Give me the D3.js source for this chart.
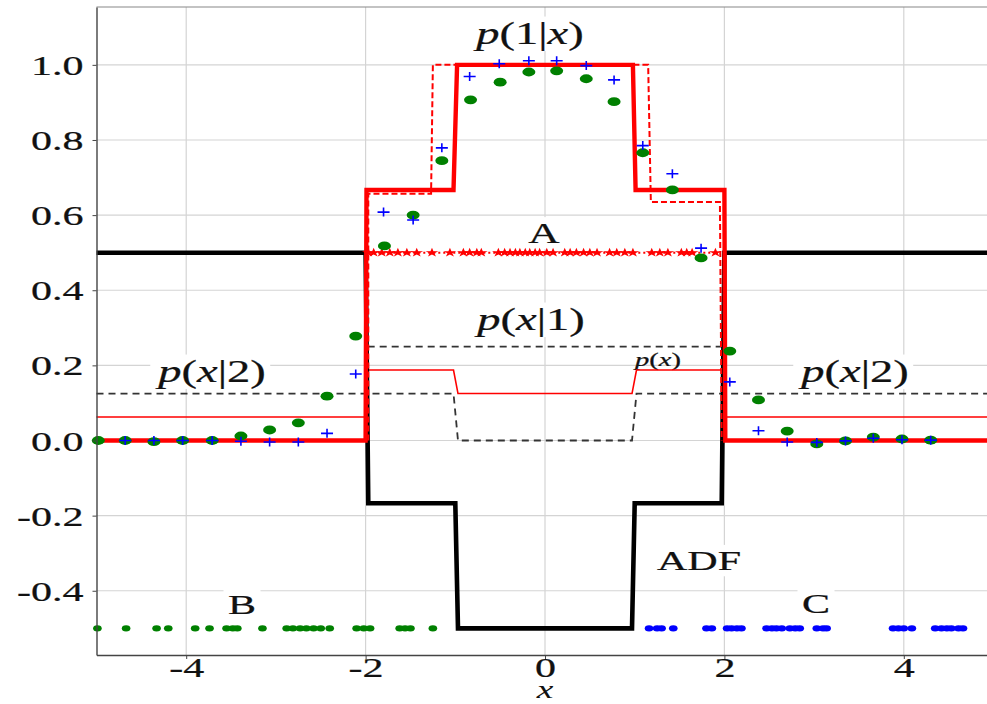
<!DOCTYPE html>
<html>
<head>
<meta charset="utf-8">
<script src="https://cdn.jsdelivr.net/npm/d3@7"></script>
<style>
  body { margin: 0; background: #fff; }
  svg { display: block; }
</style>
</head>
<body>
<script>
const width = 987, height = 704;
const SX = 1.5; // figure is stretched horizontally

// ticks
const xTicks = [-4, -2, 0, 2, 4];
const xTickLabels = ["-4", "-2", "0", "2", "4"];
const yTicks = [-0.4, -0.2, 0, 0.2, 0.4, 0.6, 0.8, 1.0];
const yTickLabels = ["-0.4", "-0.2", "0.0", "0.2", "0.4", "0.6", "0.8", "1.0"];

// ADF (thick black)
const adfX = [-5, -2.0, -1.97, -1.0, -0.97, 0.97, 1.0, 1.97, 2.0, 5.1];
const adfY = [0.5, 0.5, -0.167, -0.167, -0.5, -0.5, -0.167, -0.167, 0.5, 0.5];

// p(1|x) exact (thick red)
const post1X = [-5, -2.0, -1.99, -1.02, -0.98, 0.98, 1.01, 2.0, 2.01, 5.1];
const post1Y = [0, 0, 0.667, 0.667, 1.0, 1.0, 0.667, 0.667, 0, 0];

// p(1|x) estimate (red dashed)
const estX = [-1.97, -1.97, -1.27, -1.25, 1.15, 1.18, 1.95, 1.97];
const estY = [0, 0.657, 0.657, 1.0, 1.0, 0.635, 0.635, 0];

// p(x) (thin red)
const pxX = [-5, -2.0, -2.0, -1.02, -0.97, 0.97, 1.02, 2.0, 2.0, 5.1];
const pxY = [0.0625, 0.0625, 0.1875, 0.1875, 0.125, 0.125, 0.1875, 0.1875, 0.0625, 0.0625];

// p(x|2) and p(x|1) (black dashed)
const px2X = [-5, -1.02, -0.97, 0.97, 1.02, 5.1];
const px2Y = [0.125, 0.125, 0, 0, 0.125, 0.125];
const px1X = [-2, -2, 2, 2];
const px1Y = [0, 0.25, 0.25, 0];

// network outputs: green dots and blue pluses
const greenX = [-4.98, -4.68, -4.36, -4.04, -3.71, -3.39, -3.07, -2.75, -2.43, -2.11, -1.79, -1.47, -1.15, -0.83, -0.50, -0.18,
                0.13, 0.46, 0.77, 1.09, 1.42, 1.74, 2.06, 2.38, 2.70, 3.03, 3.35, 3.66, 3.98, 4.30];
const greenY = [0.0, 0.0, -0.003, 0.0, 0.0, 0.012, 0.028, 0.047, 0.118, 0.278, 0.518, 0.600, 0.745, 0.907, 0.954, 0.981,
                0.984, 0.963, 0.902, 0.766, 0.667, 0.486, 0.238, 0.108, 0.025, -0.009, -0.001, 0.009, 0.004, 0.001];
const blueX = [-4.68, -4.36, -4.04, -3.71, -3.39, -3.07, -2.75, -2.43, -2.11, -1.80, -1.47, -1.15, -0.84, -0.51, -0.18,
               0.13, 0.46, 0.77, 1.09, 1.42, 1.74, 2.06, 2.38, 2.70, 3.03, 3.35, 3.66, 3.98, 4.30];
const blueY = [0.0, 0.0, 0.0, 0.0, -0.002, -0.004, -0.004, 0.019, 0.177, 0.608, 0.587, 0.779, 0.969, 1.003, 1.011,
               1.011, 0.998, 0.960, 0.785, 0.710, 0.512, 0.156, 0.026, -0.004, -0.005, -0.001, 0.006, 0.002, 0.001];

// samples
const sampleA = [-1.97, -1.91, -1.82, -1.73, -1.64, -1.54, -1.43, -1.26, -1.06, -0.91, -0.84, -0.76, -0.71, -0.52, -0.45,
                 -0.39, -0.33, -0.28, -0.22, -0.17, -0.11, -0.06, 0.02, 0.09, 0.22, 0.28, 0.35, 0.43, 0.50, 0.58, 0.72,
                 0.80, 0.89, 0.98, 1.19, 1.28, 1.37, 1.52, 1.58, 1.64, 1.90];
const sampleB = [-4.99, -4.67, -4.33, -4.20, -3.90, -3.74, -3.55, -3.48, -3.43, -3.15, -2.88, -2.81, -2.73, -2.66, -2.58,
                 -2.50, -2.40, -2.10, -2.02, -1.95, -1.62, -1.56, -1.50, -1.25];
const sampleC = [1.16, 1.25, 1.30, 1.43, 1.80, 1.86, 2.03, 2.08, 2.14, 2.19, 2.47, 2.53, 2.58, 2.64, 2.73, 2.79, 2.84,
                 3.03, 3.10, 3.14, 3.88, 3.94, 4.00, 4.09, 4.35, 4.42, 4.48, 4.53, 4.61, 4.66];

const x = d3.scaleLinear().domain([-5, 5]).range([96.5, 993.5]);
const y = d3.scaleLinear().domain([-0.571, 1.154]).range([655, 7]);

const svg = d3.select("body").append("svg")
    .attr("width", width)
    .attr("height", height)
    .style("font-family", "'Liberation Serif', 'DejaVu Serif', serif");

// grid
svg.append("g").selectAll("line")
    .data(xTicks)
    .join("line")
    .attr("x1", d => x(d)).attr("x2", d => x(d))
    .attr("y1", y.range()[1]).attr("y2", y.range()[0])
    .attr("stroke", "#d4d4d4").attr("stroke-width", 1.2);
svg.append("g").selectAll("line")
    .data(yTicks)
    .join("line")
    .attr("x1", x.range()[0]).attr("x2", width)
    .attr("y1", d => y(d)).attr("y2", d => y(d))
    .attr("stroke", "#d4d4d4").attr("stroke-width", 1.2);

// top frame
svg.append("line")
    .attr("x1", x.range()[0]).attr("x2", width)
    .attr("y1", y.range()[1]).attr("y2", y.range()[1])
    .attr("stroke", "#888").attr("stroke-width", 1.2);

// labels with white boxes (behind data)
const labelLayer = svg.append("g");

function mathLabel(parts, cx, by, size, box) {
    const g = labelLayer.append("g").attr("transform", `translate(${cx},${by}) scale(${SX},1)`);
    const t = g.append("text")
        .attr("text-anchor", "middle")
        .style("font-size", size + "px")
        .attr("fill", "#111")
        .attr("stroke", "#111").attr("stroke-width", 0.25);
    parts.forEach(p => {
        t.append("tspan").text(p[0]).style("font-style", p[1] ? "italic" : "normal");
    });
    if (box) {
        const b = t.node().getBBox();
        g.insert("rect", "text")
            .attr("x", b.x - 3).attr("y", b.y)
            .attr("width", b.width + 6).attr("height", b.height)
            .attr("fill", "#fff");
    }
}

mathLabel([["p", 1], ["(", 0], ["1", 0], ["|", 0], ["x", 1], [")", 0]], 530, 44, 31, true);
mathLabel([["A", 0]], 544, 243, 29, true);
mathLabel([["p", 1], ["(", 0], ["x", 1], ["|", 0], ["1", 0], [")", 0]], 531, 330, 31, true);
mathLabel([["p", 1], ["(", 0], ["x", 1], ["|", 0], ["2", 0], [")", 0]], 212, 382, 31, true);
mathLabel([["p", 1], ["(", 0], ["x", 1], ["|", 0], ["2", 0], [")", 0]], 855, 382, 31, true);
mathLabel([["p", 1], ["(", 0], ["x", 1], [")", 0]], 658, 366, 19, false);
mathLabel([["ADF", 0]], 699, 570, 28, true);
mathLabel([["B", 0]], 242, 614, 28, true);
mathLabel([["C", 0]], 816, 613, 28, true);

const line = d3.line().x(d => x(d[0])).y(d => y(d[1]));
const zipXY = (xs, ys) => xs.map((v, i) => [v, ys[i]]);

const plot = svg.append("g");

// black dashed p(x|2), p(x|1)
plot.append("path").datum(zipXY(px2X, px2Y))
    .attr("d", line).attr("fill", "none")
    .attr("stroke", "#333").attr("stroke-width", 1.8).attr("stroke-dasharray", "7,5");
plot.append("path").datum(zipXY(px1X, px1Y))
    .attr("d", line).attr("fill", "none")
    .attr("stroke", "#333").attr("stroke-width", 1.8).attr("stroke-dasharray", "7,5");

// thin red p(x)
plot.append("path").datum(zipXY(pxX, pxY))
    .attr("d", line).attr("fill", "none")
    .attr("stroke", "#ff0000").attr("stroke-width", 1.6);

// ADF
plot.append("path").datum(zipXY(adfX, adfY))
    .attr("d", line).attr("fill", "none")
    .attr("stroke", "#000").attr("stroke-width", 4.6);

// p(1|x)
plot.append("path").datum(zipXY(post1X, post1Y))
    .attr("d", line).attr("fill", "none")
    .attr("stroke", "#ff0000").attr("stroke-width", 4.4);

// estimate, dashed
plot.append("path").datum(zipXY(estX, estY))
    .attr("d", line).attr("fill", "none")
    .attr("stroke", "#ff0000").attr("stroke-width", 2).attr("stroke-dasharray", "6,3");

// sample A: stars with dotted line at 0.5
plot.append("path").datum([[d3.min(sampleA), 0.5], [d3.max(sampleA), 0.5]])
    .attr("d", line).attr("fill", "none")
    .attr("stroke", "#ff0000").attr("stroke-width", 2).attr("stroke-dasharray", "2,3");
const star = d3.symbol(d3.symbolStar, 26);
plot.append("g").selectAll("path")
    .data(sampleA)
    .join("path")
    .attr("d", star)
    .attr("transform", d => `translate(${x(d)},${y(0.5)}) scale(1.4,1)`)
    .attr("fill", "#ff0000");

// sample B and C
plot.append("g").selectAll("ellipse")
    .data(sampleB)
    .join("ellipse")
    .attr("cx", d => x(d)).attr("cy", y(-0.5))
    .attr("rx", 4.3).attr("ry", 3.2)
    .attr("fill", "#008000");
plot.append("g").selectAll("ellipse")
    .data(sampleC)
    .join("ellipse")
    .attr("cx", d => x(d)).attr("cy", y(-0.5))
    .attr("rx", 4.3).attr("ry", 3.2)
    .attr("fill", "#0000ff");

// green dots
plot.append("g").selectAll("ellipse")
    .data(zipXY(greenX, greenY))
    .join("ellipse")
    .attr("cx", d => x(d[0])).attr("cy", d => y(d[1]))
    .attr("rx", 6.5).attr("ry", 4.4)
    .attr("fill", "#008000");

// blue pluses
plot.append("g").selectAll("path")
    .data(zipXY(blueX, blueY))
    .join("path")
    .attr("d", d => {
        const cx = x(d[0]), cy = y(d[1]);
        return `M${cx - 6},${cy}H${cx + 6}M${cx},${cy - 4.5}V${cy + 4.5}`;
    })
    .attr("stroke", "#0000ff").attr("stroke-width", 1.6).attr("fill", "none");

// axes
const xAxis = svg.append("g")
    .attr("transform", `translate(0,${y.range()[0]})`)
    .call(d3.axisBottom(x).tickValues(xTicks).tickFormat((d, i) => xTickLabels[i]).tickSize(4).tickSizeOuter(0));
xAxis.select(".domain").attr("stroke", "#444").attr("stroke-width", 1.4);
xAxis.selectAll(".tick line").attr("stroke", "#444");
xAxis.selectAll(".tick text")
    .attr("y", null).attr("dy", null)
    .attr("transform", `translate(0,22) scale(${SX},1)`)
    .style("font-size", "28px").attr("fill", "#111")
    .attr("stroke", "#111").attr("stroke-width", 0.25)
    .style("font-family", "'Liberation Serif', serif");

const yAxis = svg.append("g")
    .attr("transform", `translate(${x.range()[0]},0)`)
    .call(d3.axisLeft(y).tickValues(yTicks).tickFormat((d, i) => yTickLabels[i]).tickSize(4).tickSizeOuter(0));
yAxis.select(".domain").attr("stroke", "#444").attr("stroke-width", 1.4);
yAxis.selectAll(".tick line").attr("stroke", "#444");
yAxis.selectAll(".tick text")
    .attr("x", null).attr("dy", null)
    .attr("transform", `translate(-13,9.5) scale(${SX},1)`)
    .style("font-size", "28px").attr("fill", "#111")
    .attr("stroke", "#111").attr("stroke-width", 0.25)
    .style("font-family", "'Liberation Serif', serif");

// x axis label
svg.append("text")
    .attr("transform", `translate(${x(0)},698) scale(${SX},1)`)
    .attr("text-anchor", "middle")
    .style("font-size", "25px").style("font-style", "italic")
    .attr("fill", "#111")
    .text("x");
</script>
</body>
</html>
